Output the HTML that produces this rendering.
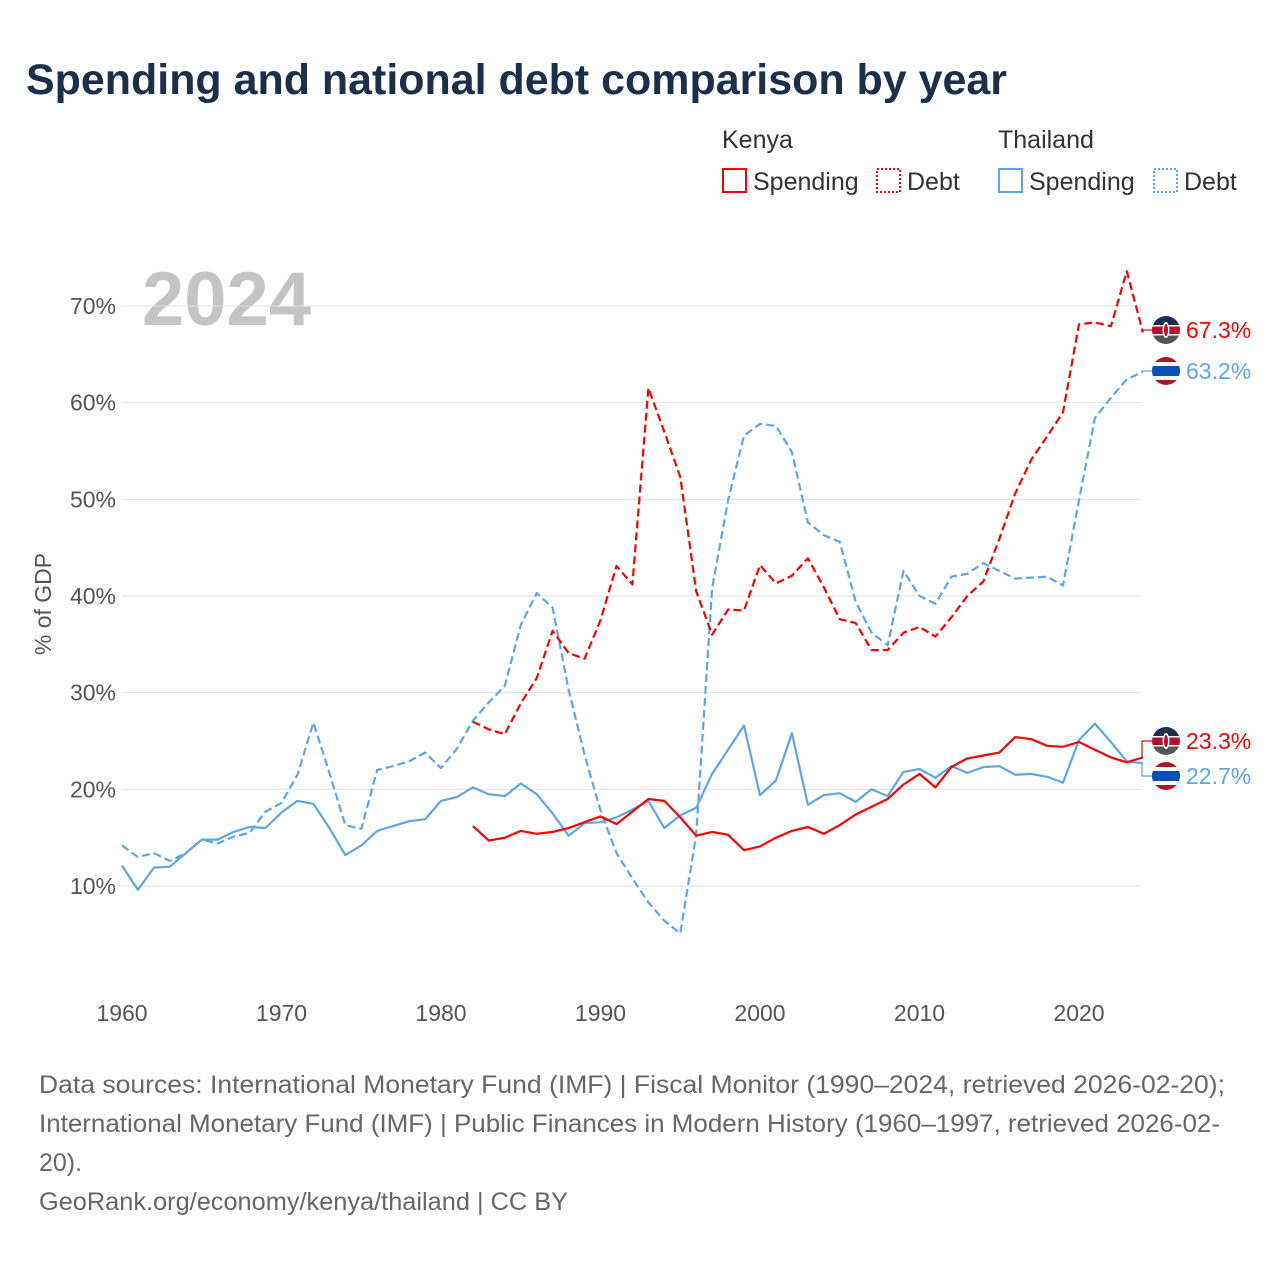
<!DOCTYPE html>
<html><head><meta charset="utf-8">
<style>
body{margin:0;background:#fff;font-family:"Liberation Sans",sans-serif;}
#wrap{position:relative;width:1280px;height:1280px;overflow:hidden;}
</style></head>
<body>
<div id="wrap">
<svg id="chart" width="1280" height="1280" xmlns="http://www.w3.org/2000/svg">
<text x="26" y="94" font-size="43" font-weight="bold" fill="#1b2f4b" textLength="981" lengthAdjust="spacingAndGlyphs">Spending and national debt comparison by year</text>
<g font-size="25" fill="#333">
<text x="722" y="148">Kenya</text>
<rect x="723" y="169" width="23" height="23" fill="none" stroke="#ff0000" stroke-width="2"/>
<text x="753" y="190">Spending</text>
<rect x="877" y="169" width="23" height="23" fill="none" stroke="#ff0000" stroke-width="2" stroke-dasharray="2,2"/>
<text x="907" y="190">Debt</text>
<text x="998" y="148">Thailand</text>
<rect x="999" y="169" width="23" height="23" fill="none" stroke="#5ea6ea" stroke-width="2"/>
<text x="1029" y="190">Spending</text>
<rect x="1154" y="169" width="23" height="23" fill="none" stroke="#5ea6ea" stroke-width="2" stroke-dasharray="2,2"/>
<text x="1184" y="190">Debt</text>
</g>
<text x="142" y="325" font-size="76" font-weight="bold" fill="#c4c4c4">2024</text>
<g id="grid"></g>
<g id="series"></g>
<g id="ends"></g>
<text transform="translate(51,604) rotate(-90)" text-anchor="middle" font-size="23" fill="#555">% of GDP</text>
<g font-size="25" fill="#666">
<text x="39" y="1093" textLength="1186" lengthAdjust="spacingAndGlyphs">Data sources: International Monetary Fund (IMF) | Fiscal Monitor (1990–2024, retrieved 2026-02-20);</text>
<text x="39" y="1132" textLength="1181" lengthAdjust="spacingAndGlyphs">International Monetary Fund (IMF) | Public Finances in Modern History (1960–1997, retrieved 2026-02-</text>
<text x="39" y="1171">20).</text>
<text x="39" y="1210" textLength="529" lengthAdjust="spacingAndGlyphs">GeoRank.org/economy/kenya/thailand | CC BY</text>
</g>
</svg>
</div>
<script>
const yTicks=[10,20,30,40,50,60,70];
const xTicks=[1960,1970,1980,1990,2000,2010,2020];
const thYears0=1960;
const thSpending=[12.1,9.6,11.9,12.0,13.4,14.8,14.8,15.6,16.1,16.0,17.6,18.8,18.5,16.0,13.2,14.2,15.7,16.2,16.7,16.9,18.8,19.2,20.2,19.5,19.3,20.6,19.5,17.5,15.2,16.5,16.6,17.1,17.9,18.8,16.0,17.3,18.1,21.6,24.1,26.6,19.4,20.9,25.8,18.4,19.4,19.6,18.7,20.0,19.3,21.8,22.1,21.2,22.4,21.7,22.3,22.4,21.5,21.6,21.3,20.7,25.1,26.8,24.9,22.9,22.7];
const thDebt=[14.2,13.0,13.4,12.6,13.4,14.8,14.4,15.1,15.5,17.7,18.6,21.5,26.9,21.7,16.3,15.9,22.0,22.4,22.9,23.8,22.2,24.2,27.1,29.0,30.7,37.0,40.3,38.8,30.3,23.6,17.8,13.4,10.8,8.3,6.4,5.1,15.3,40.8,49.9,56.6,57.8,57.6,54.9,47.6,46.3,45.6,39.4,36.2,34.9,42.6,40.0,39.2,42.0,42.3,43.4,42.6,41.8,41.9,42.0,41.1,49.9,58.4,60.5,62.4,63.2];
const keYears0=1982;
const keSpending=[16.2,14.7,15.0,15.7,15.4,15.6,16.0,16.6,17.2,16.4,17.7,19.0,18.8,17.1,15.2,15.6,15.3,13.7,14.1,15.0,15.7,16.1,15.4,16.3,17.4,18.2,19.0,20.5,21.6,20.2,22.3,23.2,23.5,23.8,25.4,25.2,24.5,24.4,24.9,24.1,23.3,22.8,23.3];
const keDebt=[27.0,26.2,25.7,28.9,31.5,36.4,34.1,33.5,37.5,43.1,41.2,61.5,57.0,52.3,40.5,36.0,38.6,38.5,43.2,41.3,42.1,43.9,40.9,37.6,37.2,34.4,34.4,36.2,36.8,35.8,37.8,40.0,41.5,45.9,50.6,54.1,56.5,59.0,68.1,68.3,67.9,73.6,67.3];
const NS='http://www.w3.org/2000/svg';
function X(yr){return 122+(yr-1960)*15.95;}
function Y(v){return 886-(v-10)*9.667;}
function mk(tag,attrs,parent){const e=document.createElementNS(NS,tag);for(const k in attrs)e.setAttribute(k,attrs[k]);parent.appendChild(e);return e;}
const grid=document.getElementById('grid');
yTicks.forEach(t=>{
  const l=mk('line',{x1:122,x2:1141,y1:Y(t),y2:Y(t),stroke:'#e2e2e2','stroke-width':1},grid);
  
  
  const tx=mk('text',{x:116,y:Y(t)+8,'text-anchor':'end','font-size':23,fill:'#555'},grid);
  tx.textContent=t+'%';
  
  
});
xTicks.forEach(t=>{
  const tx=mk('text',{x:X(t),y:1021,'text-anchor':'middle','font-size':23,fill:'#555'},grid);
  tx.textContent=t;
  
  
});
const ser=document.getElementById('series');
function line(vals,y0,color,dash,name){
  const d=vals.map((v,i)=>(i?'L':'M')+X(y0+i).toFixed(1)+','+Y(v).toFixed(1)).join('');
  const p=mk('path',{d:d,fill:'none',stroke:color,'stroke-width':2.2,'stroke-linejoin':'round'},ser);
  if(dash)p.setAttribute('stroke-dasharray','8,4');
  
  
}
line(thDebt,thYears0,'#5ea6ea',true,'thailand-debt-line');
line(thSpending,thYears0,'#5ea6ea',false,'thailand-spending-line');
line(keDebt,keYears0,'#ff0000',true,'kenya-debt-line');
line(keSpending,keYears0,'#ff0000',false,'kenya-spending-line');
const ends=document.getElementById('ends');
function flag(cx,cy,kenya,parent){
  const g=mk('g',{},parent);
  const cid='c'+Math.round(cy);
  const cp=mk('clipPath',{id:cid},g);mk('circle',{cx:cx,cy:cy,r:14},cp);
  const f=mk('g',{'clip-path':'url(#'+cid+')'},g);
  if(kenya){
    mk('rect',{x:cx-14,y:cy-14,width:28,height:9,fill:'#1b2f4b'},f);
    mk('rect',{x:cx-14,y:cy-5,width:28,height:10,fill:'#b5112b'},f);
    mk('rect',{x:cx-14,y:cy+5,width:28,height:9,fill:'#555'},f);
    mk('rect',{x:cx-14,y:cy-5,width:28,height:1.5,fill:'#fff'},f);
    mk('rect',{x:cx-14,y:cy+4,width:28,height:1.5,fill:'#fff'},f);
    mk('ellipse',{cx:cx,cy:cy,rx:3.5,ry:8,fill:'#fff'},f);
    mk('ellipse',{cx:cx,cy:cy,rx:2,ry:6,fill:'#b5112b'},f);
  }else{
    mk('rect',{x:cx-14,y:cy-14,width:28,height:28,fill:'#b5112b'},f);
    mk('rect',{x:cx-14,y:cy-9,width:28,height:18,fill:'#fff'},f);
    mk('rect',{x:cx-14,y:cy-5,width:28,height:10,fill:'#0a4fb3'},f);
  }
  return g;
}
function endLabel(val,yr,cy,color,kenya,name){
  const lx=X(yr),ly=Y(val);
  const c=mk('path',{d:'M'+lx+','+ly+'L1142,'+ly+'L1142,'+cy+'L1152,'+cy,fill:'none',stroke:color,'stroke-width':1.2},ends);
  
  
  const g=flag(1166,cy,kenya,ends);
  
  
  const t=mk('text',{x:1186,y:cy+8,'font-size':23,fill:color},ends);
  t.textContent=val.toFixed(1)+'%';
  
  
}
endLabel(keDebt[keDebt.length-1],2024,330,'#ff0000',true,'kenya-debt-end');
endLabel(thDebt[thDebt.length-1],2024,371,'#5ea6ea',false,'thailand-debt-end');
endLabel(keSpending[keSpending.length-1],2024,741,'#ff0000',true,'kenya-spending-end');
endLabel(thSpending[thSpending.length-1],2024,776,'#5ea6ea',false,'thailand-spending-end');
</script>
</body></html>
